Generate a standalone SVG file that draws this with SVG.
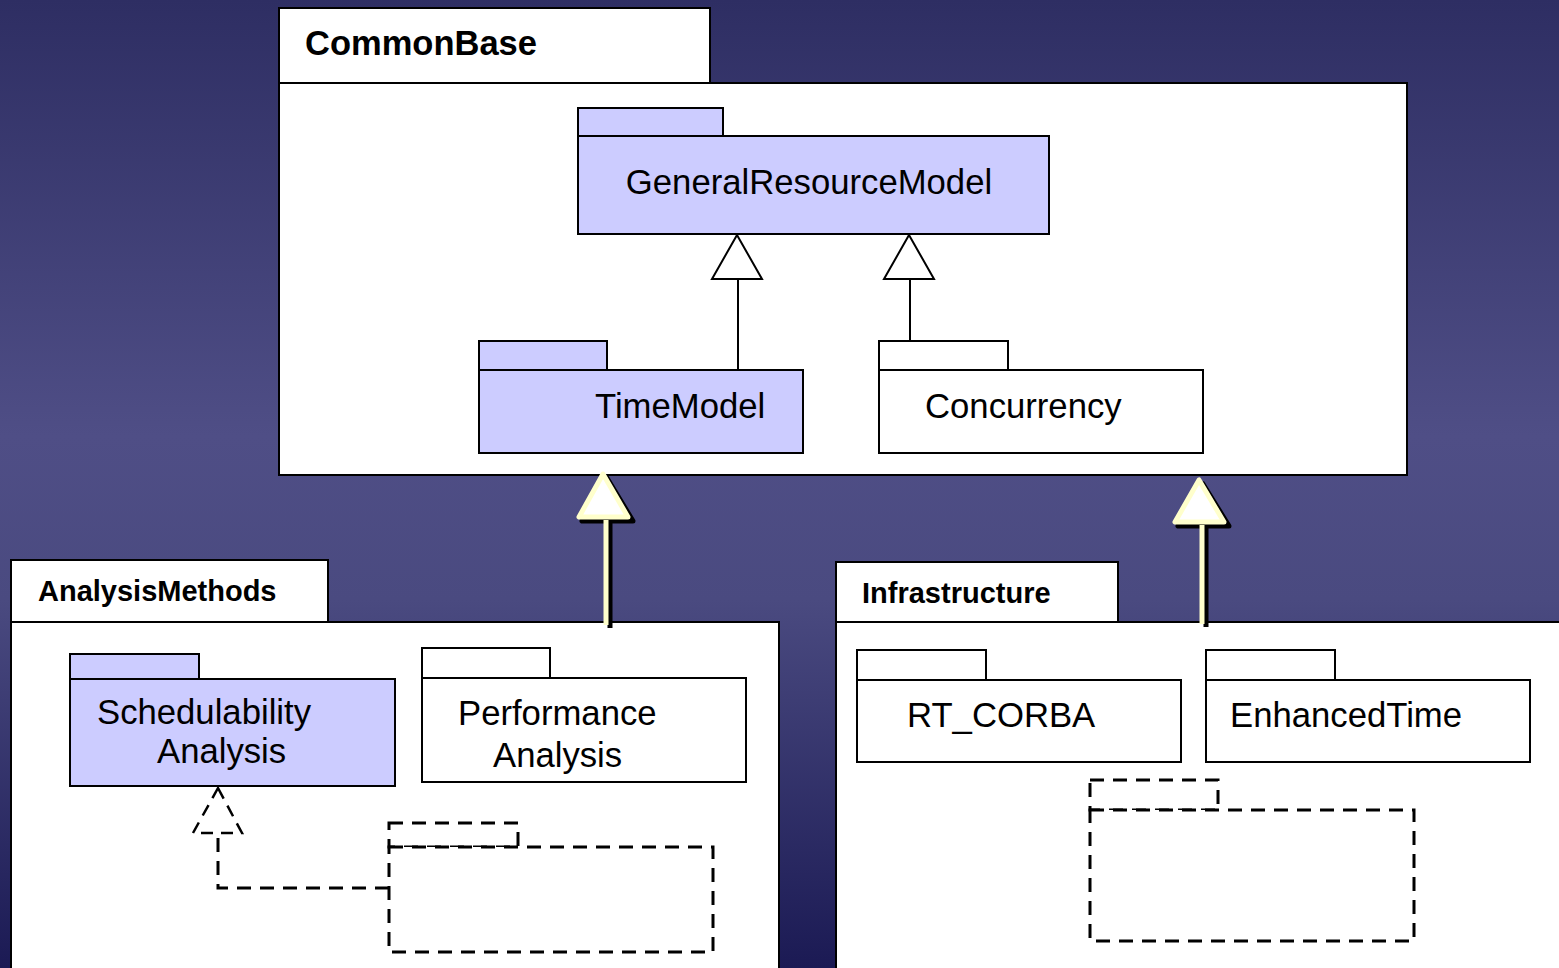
<svg xmlns="http://www.w3.org/2000/svg" width="1559" height="968" viewBox="0 0 1559 968">
<defs>
<linearGradient id="bg" x1="0" y1="0" x2="0" y2="1">
<stop offset="0" stop-color="#2e2e63"/>
<stop offset="0.45" stop-color="#4f4e86"/>
<stop offset="0.62" stop-color="#4a4a80"/>
<stop offset="1" stop-color="#1b1a54"/>
</linearGradient>
<style>
.frame{fill:#fff;stroke:#000;stroke-width:2}
.pkgB{fill:#ccccff;stroke:#000;stroke-width:2}
.pkgW{fill:#fff;stroke:#000;stroke-width:2}
.dash{fill:#fff;stroke:#000;stroke-width:3;stroke-dasharray:14 9}
.title{font-family:"Liberation Sans",Arial,sans-serif;font-weight:bold;fill:#000}
.lbl{font-family:"Liberation Sans",Arial,sans-serif;font-size:34.7px;fill:#000}
.gen{fill:#fff;stroke:#000;stroke-width:2}
.line{stroke:#000;stroke-width:2;fill:none}
</style>
</defs>
<rect x="0" y="0" width="1559" height="968" fill="url(#bg)"/>

<g id="CommonBase">
<rect class="frame" x="279" y="8" width="431" height="75"/>
<rect class="frame" x="279" y="83" width="1128" height="392"/>
<text class="title" x="305" y="55" font-size="34.5">CommonBase</text>
</g>

<g id="GeneralResourceModel">
<rect class="pkgB" x="578" y="108" width="145" height="28"/>
<rect class="pkgB" x="578" y="136" width="471" height="98"/>
<text class="lbl" x="809" y="194" text-anchor="middle">GeneralResourceModel</text>
</g>

<g id="TimeModel">
<rect class="pkgB" x="479" y="341" width="128" height="29"/>
<rect class="pkgB" x="479" y="370" width="324" height="83"/>
<text class="lbl" x="595" y="418">TimeModel</text>
</g>

<g id="Concurrency">
<rect class="pkgW" x="879" y="341" width="129" height="29"/>
<rect class="pkgW" x="879" y="370" width="324" height="83"/>
<text class="lbl" x="925" y="418">Concurrency</text>
</g>

<g id="AnalysisMethods">
<rect class="frame" x="11" y="560" width="317" height="62"/>
<rect class="frame" x="11" y="622" width="768" height="360"/>
<text class="title" x="38" y="601" font-size="29">AnalysisMethods</text>
</g>

<g id="SchedulabilityAnalysis">
<rect class="pkgB" x="70" y="654" width="129" height="25"/>
<rect class="pkgB" x="70" y="679" width="325" height="107"/>
<text class="lbl" x="97" y="724">Schedulability</text>
<text class="lbl" x="157" y="763">Analysis</text>
</g>

<g id="PerformanceAnalysis">
<rect class="pkgW" x="422" y="648" width="128" height="30"/>
<rect class="pkgW" x="422" y="678" width="324" height="104"/>
<text class="lbl" x="458" y="725">Performance</text>
<text class="lbl" x="493" y="767">Analysis</text>
</g>

<g id="DashedPkgLeft">
<rect class="dash" x="389" y="823" width="129" height="24"/>
<rect class="dash" x="389" y="847" width="324" height="105"/>
</g>

<g id="Infrastructure">
<rect class="frame" x="836" y="562" width="282" height="60"/>
<rect class="frame" x="836" y="622" width="740" height="360"/>
<text class="title" x="862" y="603" font-size="29">Infrastructure</text>
</g>

<g id="RT_CORBA">
<rect class="pkgW" x="857" y="650" width="129" height="30"/>
<rect class="pkgW" x="857" y="680" width="324" height="82"/>
<text class="lbl" x="907" y="727">RT_CORBA</text>
</g>

<g id="EnhancedTime">
<rect class="pkgW" x="1206" y="650" width="129" height="30"/>
<rect class="pkgW" x="1206" y="680" width="324" height="82"/>
<text class="lbl" x="1230" y="727">EnhancedTime</text>
</g>

<g id="DashedPkgRight">
<rect class="dash" x="1090" y="780" width="128" height="30"/>
<rect class="dash" x="1090" y="810" width="324" height="131"/>
</g>

<g id="connectors">
<line class="line" x1="738" y1="279" x2="738" y2="370"/>
<polygon class="gen" points="737,235 712,279 762,279"/>
<line class="line" x1="910" y1="279" x2="910" y2="341"/>
<polygon class="gen" points="909,235 884,279 934,279"/>

<polyline fill="none" stroke="#000" stroke-width="3" stroke-dasharray="14 9" points="389,888 218,888 218,833"/>
<polygon points="218,788 242,833 193,833" fill="#fff" stroke="#000" stroke-width="2.5" stroke-dasharray="12 8"/>

<line x1="610" y1="522" x2="610" y2="628" stroke="#000" stroke-width="5"/>
<polygon points="607,478 582,521 633,521" fill="none" stroke="#000" stroke-width="5" stroke-linejoin="round"/>
<line x1="606" y1="520" x2="606" y2="625" stroke="#ffffcc" stroke-width="5"/>
<polygon points="603,474 579,517 628,517" fill="#fff" stroke="#ffffcc" stroke-width="5" stroke-linejoin="round"/>

<line x1="1206" y1="527" x2="1206" y2="627" stroke="#000" stroke-width="5"/>
<polygon points="1203,484 1178,526 1229,526" fill="none" stroke="#000" stroke-width="5" stroke-linejoin="round"/>
<line x1="1202" y1="525" x2="1202" y2="624" stroke="#ffffcc" stroke-width="5"/>
<polygon points="1199,480 1175,522 1224,522" fill="#fff" stroke="#ffffcc" stroke-width="5" stroke-linejoin="round"/>
</g>
</svg>
